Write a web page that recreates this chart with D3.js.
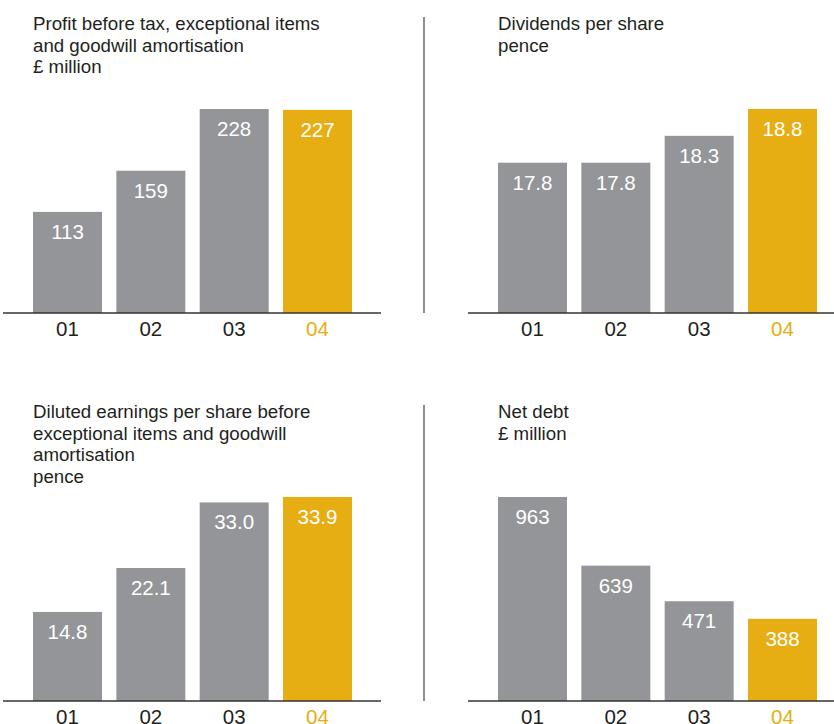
<!DOCTYPE html>
<html lang='en'>

<head>
    <meta charset='UTF-8'>
    <title>Key figures</title>
    <script src="https://cdn.jsdelivr.net/npm/d3@7"></script>
    <style>
        body { margin: 0; background: #ffffff; }
        text { font-family: "Liberation Sans", Arial, Helvetica, sans-serif; }
    </style>
</head>

<body>
    <svg class="chart"></svg>
</body>
<script>
    /**
     * data
     */
    const years = ["01", "02", "03", "04"];
    const profit = [113, 159, 228, 227];
    const dividends = [17.8, 17.8, 18.3, 18.8];
    const eps = [14.8, 22.1, 33.0, 33.9];
    const netDebt = [963, 639, 471, 388];

    const profitTitle = ["Profit before tax, exceptional items", "and goodwill amortisation", "£ million"];
    const dividendsTitle = ["Dividends per share", "pence"];
    const epsTitle = ["Diluted earnings per share before", "exceptional items and goodwill", "amortisation", "pence"];
    const netDebtTitle = ["Net debt", "£ million"];

    /**
     * basic config
     */
    const svgWidth = 834;
    const svgHeight = 724;
    const grey = "#939598";
    const gold = "#e6ae12";
    const ink = "#231f20";

    const svg = d3.select(".chart")
        .attr("width", svgWidth)
        .attr("height", svgHeight);

    // one entry per panel: where it sits, and what it shows
    const panels = [
        { title: profitTitle, values: profit, dx: 0, base: 313, titleY: 30, yMin: 0, fmt: d3.format("d"), divider: false },
        { title: dividendsTitle, values: dividends, dx: 465, base: 313, titleY: 30, yMin: 15, fmt: d3.format(".1f"), divider: true, divTop: 17 },
        { title: epsTitle, values: eps, dx: 0, base: 701, titleY: 418, yMin: 0, fmt: d3.format(".1f"), divider: false },
        { title: netDebtTitle, values: netDebt, dx: 465, base: 701, titleY: 418, yMin: 0, fmt: d3.format("d"), divider: true, divTop: 405 }
    ];

    panels.forEach(p => {
        const g = svg.append("g");

        const x = d3.scaleBand()
            .domain(years)
            .range([33 + p.dx, 352 + p.dx])
            .paddingInner(0.172)
            .paddingOuter(0);

        const y = d3.scaleLinear()
            .domain([p.yMin, d3.max(p.values)])
            .range([p.base, p.base - 204]);

        // title lines
        g.append("text")
            .attr("x", 33 + p.dx)
            .attr("y", p.titleY)
            .attr("fill", ink)
            .attr("font-size", 18.7)
            .selectAll("tspan")
            .data(p.title)
            .join("tspan")
            .attr("x", 33 + p.dx)
            .attr("dy", (d, i) => i === 0 ? 0 : 21.5)
            .text(d => d);

        // divider between the two columns
        if (p.divider) {
            g.append("line")
                .attr("x1", 424).attr("x2", 424)
                .attr("y1", p.divTop).attr("y2", p.base)
                .attr("stroke", "#444")
                .attr("stroke-width", 1.2);
        }

        const data = years.map((yr, i) => ({ yr, v: p.values[i] }));

        // bars
        g.selectAll("rect")
            .data(data)
            .join("rect")
            .attr("x", d => x(d.yr))
            .attr("y", d => y(d.v))
            .attr("width", x.bandwidth())
            .attr("height", d => p.base - y(d.v))
            .attr("fill", (d, i) => i === years.length - 1 ? gold : grey);

        // value labels inside the bars
        g.selectAll(".val")
            .data(data)
            .join("text")
            .attr("class", "val")
            .attr("x", d => x(d.yr) + x.bandwidth() / 2)
            .attr("y", d => y(d.v) + 27)
            .attr("text-anchor", "middle")
            .attr("font-size", 20.5)
            .attr("fill", "#ffffff")
            .text(d => p.fmt(d.v));

        // baseline
        g.append("line")
            .attr("x1", 3 + p.dx).attr("x2", Math.min(381 + p.dx, svgWidth))
            .attr("y1", p.base).attr("y2", p.base)
            .attr("stroke", "#333")
            .attr("stroke-width", 1.5);

        // year labels (the bottom row runs off the page edge, as in the original)
        const axis = g.append("g")
            .attr("transform", `translate(0, ${p.base})`)
            .call(d3.axisBottom(x).tickSize(0).tickPadding(0));
        axis.select(".domain").remove();
        axis.selectAll("text")
            .attr("y", 0)
            .attr("dy", 23)
            .attr("font-size", 20.5)
            .attr("font-family", "\"Liberation Sans\", Arial, sans-serif")
            .attr("fill", (d, i) => i === years.length - 1 ? gold : ink);
    });
</script>

</html>
